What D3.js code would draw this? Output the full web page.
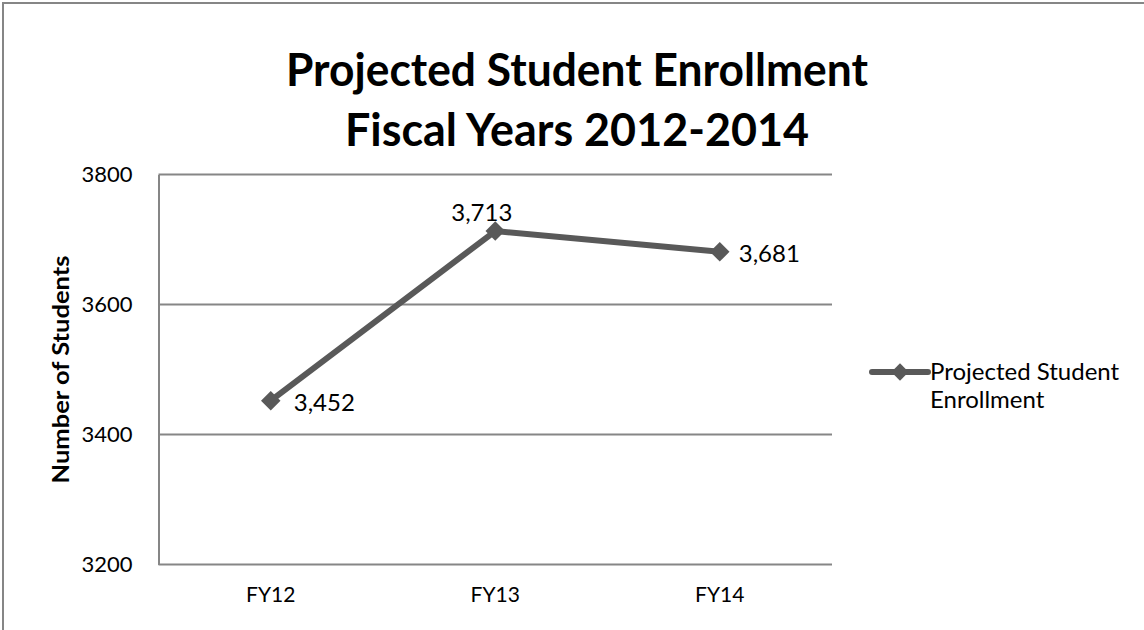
<!DOCTYPE html>
<html>
<head>
<meta charset="utf-8">
<script src="https://cdn.jsdelivr.net/npm/d3@7"></script>
<style>
  html, body { margin: 0; padding: 0; background: #fff; }
  svg { display: block; font-family: Lato, "Open Sans", sans-serif; }
</style>
</head>
<body>
<svg id="chart" width="1144" height="630"></svg>
<script>
// Enrollment projection by fiscal year
const categories = ["FY12", "FY13", "FY14"];
const enrollment = [3452, 3713, 3681];
const yTicks = [3200, 3400, 3600, 3800];
const titleLines = ["Projected Student Enrollment", "Fiscal Years 2012-2014"];
const seriesName = ["Projected Student", "Enrollment"];
const yAxisTitle = "Number of Students";

const svg = d3.select("#chart");
const grid = "#868686";
const ink = "#595959";

// outer chart frame (top and left edges visible)
svg.append("path")
  .attr("d", "M3,632 V3 H1146")
  .attr("fill", "none").attr("stroke", grid).attr("stroke-width", 2);

const plot = { left: 158.5, right: 832, top: 174.5, bottom: 564.5 };

const x = d3.scaleBand().domain(categories).range([plot.left, plot.right]);
const y = d3.scaleLinear().domain([3200, 3800]).range([plot.bottom, plot.top]);

// title
svg.append("g").selectAll("text").data(titleLines).join("text")
  .attr("x", 577)
  .attr("y", (d, i) => 86 + i * 60)
  .attr("text-anchor", "middle")
  .attr("font-size", 46)
  .attr("font-weight", "bold")
  .attr("fill", "#000")
  .attr("textLength", (d, i) => i === 0 ? 582 : 464)
  .attr("lengthAdjust", "spacingAndGlyphs")
  .text(d => d);

// horizontal gridlines
svg.append("g").selectAll("line").data(yTicks).join("line")
  .attr("x1", plot.left).attr("x2", plot.right)
  .attr("y1", d => y(d)).attr("y2", d => y(d))
  .attr("stroke", grid).attr("stroke-width", 2);

// y axis
const yAxis = svg.append("g")
  .attr("transform", `translate(${plot.left},0)`)
  .call(d3.axisLeft(y).tickValues(yTicks).tickSize(0).tickPadding(26).tickFormat(d3.format("d")));
yAxis.select(".domain").attr("stroke", grid).attr("stroke-width", 2);
yAxis.selectAll("text").attr("font-size", 22).attr("fill", "#000")
  .attr("font-family", "Lato, sans-serif");

// x axis labels
const xAxis = svg.append("g")
  .attr("transform", `translate(0,${plot.bottom})`)
  .call(d3.axisBottom(x).tickSize(0).tickPadding(23));
xAxis.select(".domain").remove();
xAxis.selectAll("text").attr("font-size", 21).attr("fill", "#000")
  .attr("font-family", "Lato, sans-serif");

// y axis title
svg.append("text")
  .attr("transform", `translate(69,${(plot.top + plot.bottom) / 2}) rotate(-90)`)
  .attr("text-anchor", "middle")
  .attr("font-size", 22)
  .attr("font-weight", "bold")
  .attr("textLength", 228)
  .attr("lengthAdjust", "spacingAndGlyphs")
  .text(yAxisTitle);

// series line
const pts = categories.map((c, i) => ({ c, v: enrollment[i] }));
const line = d3.line().x(d => x(d.c) + x.bandwidth() / 2).y(d => y(d.v));
svg.append("path").datum(pts)
  .attr("d", line)
  .attr("fill", "none").attr("stroke", ink).attr("stroke-width", 6)
  .attr("stroke-linejoin", "round");

svg.append("g").selectAll("path").data(pts).join("path")
  .attr("transform", d => `translate(${x(d.c) + x.bandwidth() / 2},${y(d.v)}) rotate(45)`)
  .attr("d", d3.symbol().type(d3.symbolSquare).size(190))
  .attr("fill", ink);

// data labels
const fmt = d3.format(",");
const labelOffset = [[23, 10], [-44, -10], [19, 10]];
svg.append("g").selectAll("text").data(pts).join("text")
  .attr("x", (d, i) => x(d.c) + x.bandwidth() / 2 + labelOffset[i][0])
  .attr("y", (d, i) => y(d.v) + labelOffset[i][1])
  .attr("font-size", 24).attr("fill", "#000")
  .text(d => fmt(d.v));

// legend
const lg = svg.append("g").attr("transform", "translate(872,372)");
lg.append("line").attr("x1", 0).attr("x2", 56).attr("y1", 0).attr("y2", 0)
  .attr("stroke", ink).attr("stroke-width", 6).attr("stroke-linecap", "round");
lg.append("path").attr("transform", "translate(28,0) rotate(45)")
  .attr("d", d3.symbol().type(d3.symbolSquare).size(150)).attr("fill", ink);
lg.selectAll("text").data(seriesName).join("text")
  .attr("x", 58).attr("y", (d, i) => 8 + i * 28)
  .attr("font-size", 24).attr("fill", "#000")
  .text(d => d);
</script>
</body>
</html>
